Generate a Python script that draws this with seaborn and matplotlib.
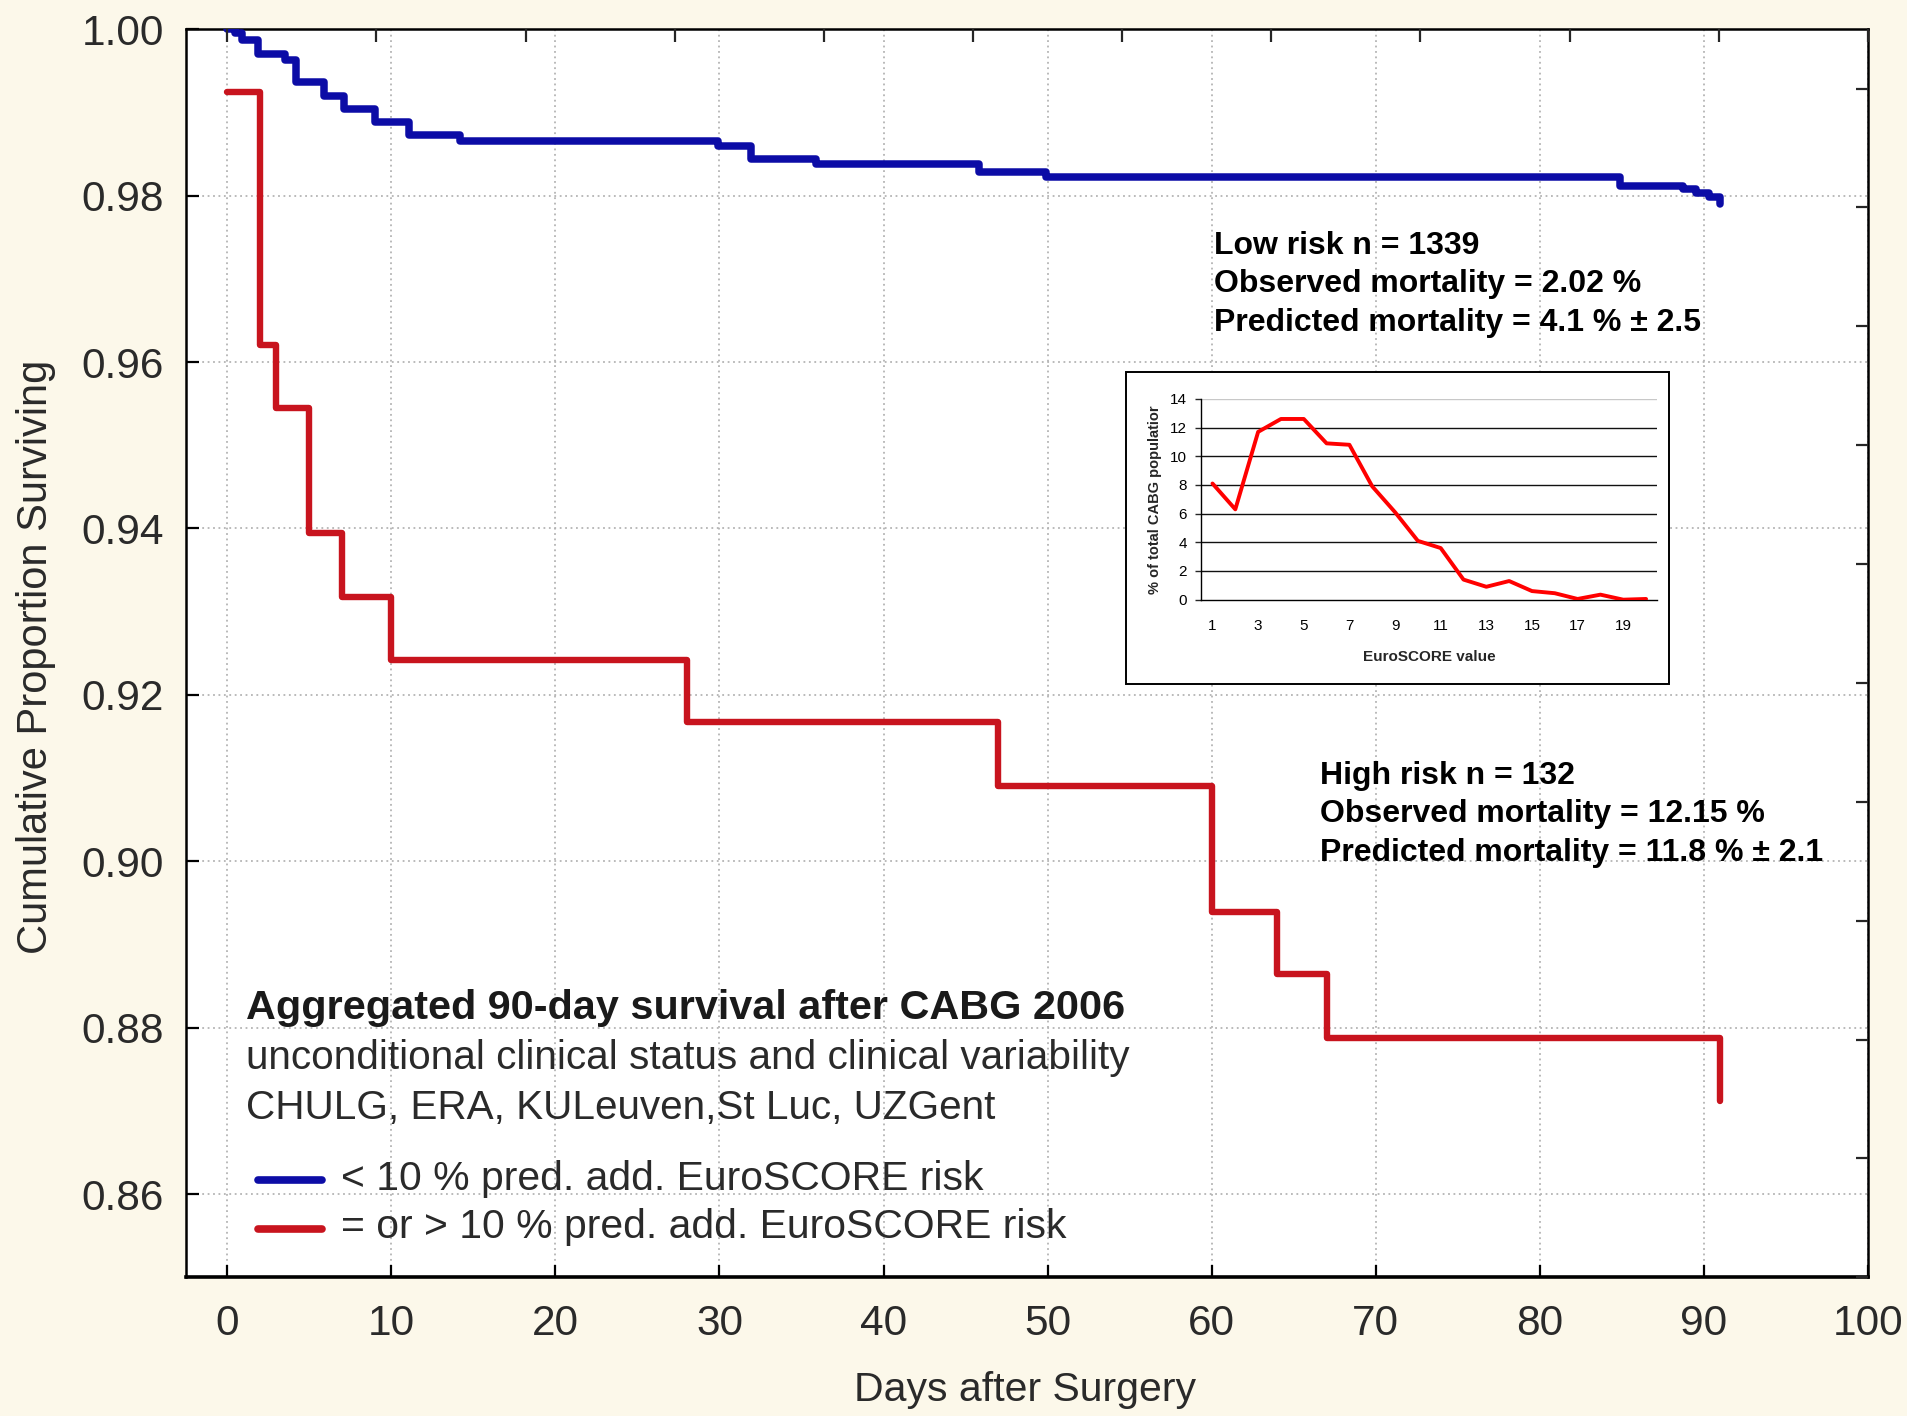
import numpy as np
import pandas as pd
import matplotlib
matplotlib.use("Agg")
import matplotlib.pyplot as plt
import seaborn as sns
from matplotlib import font_manager
from matplotlib.patches import Rectangle
from matplotlib.lines import Line2D
from matplotlib.ticker import FormatStrFormatter

# ---------------- data ----------------
low_days = [0, 0.5, 0.9, 1.9, 3.5, 4.2, 5.9, 7.1, 9.0, 11.1, 14.2, 29.9, 31.9,
            35.9, 45.8, 49.9, 84.9, 88.7, 89.5, 90.3, 91.0]
low_surv = [1.0000, 0.9995, 0.9987, 0.9970, 0.9963, 0.9936, 0.9920, 0.9904,
            0.9888, 0.9873, 0.9866, 0.9860, 0.9844, 0.9838, 0.9828, 0.9822,
            0.9811, 0.9808, 0.9803, 0.9798, 0.9790]

high_days = [0, 2, 3, 5, 7, 10, 28, 47, 60, 64, 67, 91]
high_surv = [0.9924, 0.9621, 0.9545, 0.9394, 0.9318, 0.9242, 0.9167, 0.9091,
             0.8939, 0.8864, 0.8788, 0.8712]

x_ticks = [0, 10, 20, 30, 40, 50, 60, 70, 80, 90, 100]
y_ticks = [0.86, 0.88, 0.90, 0.92, 0.94, 0.96, 0.98, 1.00]

inset_score = list(range(1, 21))
inset_pct = [8.1, 6.3, 11.7, 12.6, 12.6, 10.9, 10.8, 7.9, 6.1, 4.1,
             3.6, 1.4, 0.9, 1.3, 0.6, 0.45, 0.05, 0.35, 0.0, 0.05]
inset_xlabels = [1, 3, 5, 7, 9, 11, 13, 15, 17, 19]
inset_yticks = [0, 2, 4, 6, 8, 10, 12, 14]

title_lines = ["Aggregated 90-day survival after CABG 2006",
               "unconditional clinical status and clinical variability",
               "CHULG, ERA, KULeuven,St Luc, UZGent"]
legend_labels = ["< 10 % pred. add. EuroSCORE risk",
                 "= or > 10 % pred. add. EuroSCORE risk"]
low_text = ["Low risk n = 1339", "Observed mortality = 2.02 %",
            "Predicted mortality = 4.1 % \u00b1 2.5"]
high_text = ["High risk n = 132", "Observed mortality = 12.15 %",
             "Predicted mortality = 11.8 % \u00b1 2.1"]

BLUE = "#0c0ca6"
RED = "#c8141e"
BG = "#fcf8ea"

# ---------------- style ----------------
sns.set_theme(style="white")
names = {f.name for f in font_manager.fontManager.ttflist}
NARROW = "Liberation Sans Narrow" if "Liberation Sans Narrow" in names else "Liberation Sans"
plt.rcParams["font.family"] = [NARROW, "Liberation Sans", "DejaVu Sans"]

fig = plt.figure(figsize=(19.08, 14.16), dpi=100, facecolor=BG)
ax = fig.add_axes([0.0976, 0.0979, 0.9790 - 0.0976, 0.9794 - 0.0979])
ax.set_facecolor("white")

low_df = pd.DataFrame({"day": low_days, "surv": low_surv})
high_df = pd.DataFrame({"day": high_days, "surv": high_surv})
sns.lineplot(data=low_df, x="day", y="surv", drawstyle="steps-post",
             estimator=None, sort=False, color=BLUE, lw=5.4, ax=ax, zorder=3)
sns.lineplot(data=high_df, x="day", y="surv", drawstyle="steps-post",
             estimator=None, sort=False, color=RED, lw=4.6, ax=ax, zorder=3)

ax.set_xlim(-2.5, 100)
ax.set_ylim(0.85, 1.00)
ax.set_xticks(x_ticks)
ax.set_yticks(y_ticks)
ax.yaxis.set_major_formatter(FormatStrFormatter("%.2f"))
ax.grid(True, linestyle=(0, (1, 2)), color="#b4b4b4", lw=1.3)
ax.tick_params(axis="both", direction="in", length=9, width=1.6,
               colors="black", labelcolor="#2a2a2a", labelsize=30.5)
ax.tick_params(axis="y", pad=16)
ax.tick_params(axis="x", pad=19)
for s in ax.spines.values():
    s.set_color("black")
    s.set_linewidth(1.8)
ax.spines["bottom"].set_linewidth(2.6)

ax.set_xlabel("Days after Surgery", fontsize=29.5, color="#2a2a2a")
ax.set_ylabel("Cumulative Proportion Surviving", fontsize=30, color="#2a2a2a")
ax.xaxis.set_label_coords(0.499, -0.0906)
ax.xaxis.label.set_va("center")
ax.yaxis.set_label_coords(-0.0895, 0.497)
ax.yaxis.label.set_va("center")

# extra tick marks on top/right (from underlying plot frame)
axt = ax.twiny()
axt.set_xlim(ax.get_xlim())
axt.set_xticks([k * 100 / 11 for k in range(12)])
axt.tick_params(direction="in", length=9, width=1.6, labeltop=False)
axr = ax.twinx()
axr.set_ylim(ax.get_ylim())
axr.set_yticks([0.85 + k * 0.15 / 10.5 for k in range(11)])
axr.tick_params(direction="in", length=9, width=1.6, labelright=False)
for a in (axt, axr):
    a.grid(False)
    for s in a.spines.values():
        s.set_visible(False)

# ---------------- text block & legend ----------------
dy = 0.0025
fig.text(0.1288, 0.2904 - dy, title_lines[0], fontsize=29.8, fontweight="bold",
         color="#1a1a1a", va="center", ha="left")
fig.text(0.1288, 0.2552 - dy, title_lines[1], fontsize=29.2, color="#2a2a2a",
         va="center", ha="left")
fig.text(0.1288, 0.2199 - dy, title_lines[2], fontsize=29.2, color="#2a2a2a",
         va="center", ha="left")
for yy, col, lab in [(0.1701, BLUE, legend_labels[0]), (0.1357, RED, legend_labels[1])]:
    fig.add_artist(Line2D([0.1352, 0.1690], [yy - 0.0035, yy - 0.0035], color=col,
                          lw=5.5, solid_capstyle="round", transform=fig.transFigure))
    fig.text(0.1786, yy - dy, lab, fontsize=29.4, color="#2a2a2a", va="center", ha="left")

for i, t in enumerate(low_text):
    fig.text(0.6365, 0.8290 - dy - i * 0.0272, t, fontsize=23, fontweight="bold",
             color="black", va="center", ha="left")
for i, t in enumerate(high_text):
    fig.text(0.6920, 0.4545 - dy - i * 0.0272, t, fontsize=23, fontweight="bold",
             color="black", va="center", ha="left")

# ---------------- inset ----------------
box = Rectangle((0.5899, 0.5172), 0.8750 - 0.5899, 0.7371 - 0.5172,
                transform=fig.transFigure, facecolor="white", edgecolor="black",
                lw=1.4, zorder=5)
fig.add_artist(box)

ins = fig.add_axes([0.6295, 0.5765, 0.2392, 0.1418], zorder=6)
ins.set_facecolor("white")
ins_df = pd.DataFrame({"score": inset_score, "pct": inset_pct})
sns.lineplot(data=ins_df, x="score", y="pct", color="#ff0000", lw=2.8,
             estimator=None, sort=False, ax=ins, zorder=4)
ins.set_xlim(0.5, 20.5)
ins.set_ylim(0, 14)
ins.set_yticks(inset_yticks)
ins.set_xticks(inset_xlabels)
ins.set_xticks([k + 0.5 for k in range(21)], minor=True)
ins.tick_params(axis="x", which="major", length=0, pad=14, labelsize=11,
                labelcolor="black")
ins.tick_params(axis="x", which="minor", length=5, width=1.0, direction="out",
                color="black")
ins.tick_params(axis="y", length=4, width=1.0, direction="out", labelsize=11,
                labelcolor="black", pad=6, left=True)
for yv in inset_yticks[1:]:
    ins.axhline(yv, color="#c8c8c8" if yv == 14 else "#111111", lw=1.0, zorder=1)
for side in ("top", "right"):
    ins.spines[side].set_visible(False)
for side in ("left", "bottom"):
    ins.spines[side].set_color("black")
    ins.spines[side].set_linewidth(1.0)
ins.set_xlabel("EuroSCORE value", fontsize=11, fontweight="bold",
               family=["Liberation Sans", "DejaVu Sans"], labelpad=12)
ins.set_ylabel("% of total CABG populatior", fontsize=10.5, fontweight="bold",
               family=["Liberation Sans", "DejaVu Sans"], labelpad=6)
for lab in ins.get_xticklabels() + ins.get_yticklabels():
    lab.set_family(["Liberation Sans", "DejaVu Sans"])

fig.savefig("out.png", dpi=100, facecolor=BG)
